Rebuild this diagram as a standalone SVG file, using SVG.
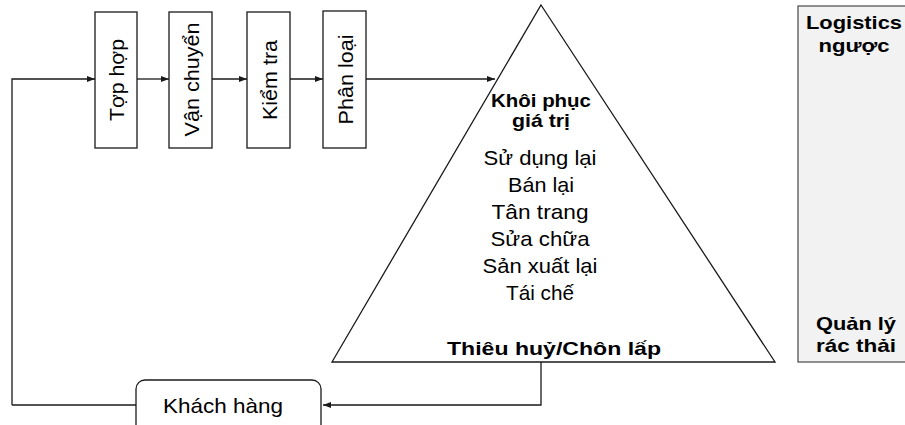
<svg xmlns="http://www.w3.org/2000/svg" width="905" height="425" viewBox="0 0 905 425">
  <style>
    .box { fill: #ffffff; stroke: #1a1a1a; stroke-width: 1.3; }
    .wire { fill: none; stroke: #1a1a1a; stroke-width: 1.3; }
    .txt { font-family: "Liberation Sans", Arial, sans-serif; font-size: 21px; fill: #000; }
    .bold { font-family: "Liberation Sans", Arial, sans-serif; font-size: 19px; font-weight: bold; fill: #000; }
    .mid { text-anchor: middle; }
  </style>
  <defs>
    <marker id="arrow" viewBox="0 0 8 6" refX="8" refY="3" markerWidth="8" markerHeight="6" markerUnits="userSpaceOnUse" orient="auto">
      <path d="M0,0 L8,3 L0,6 Z" fill="#1a1a1a"/>
    </marker>
  </defs>

  <rect width="905" height="425" fill="#ffffff"/>

  <!-- side panel: reverse logistics vs. waste management -->
  <g id="panel">
    <rect x="798" y="6" width="112" height="356" fill="#f2f2f2" stroke="#555555" stroke-width="1.3"/>
    <text class="bold mid" x="854" y="29" textLength="96" lengthAdjust="spacingAndGlyphs">Logistics</text>
    <text class="bold mid" x="854" y="52" textLength="71" lengthAdjust="spacingAndGlyphs">ngược</text>
    <text class="bold mid" x="856" y="330" textLength="80" lengthAdjust="spacingAndGlyphs">Quản lý</text>
    <text class="bold mid" x="856" y="352" textLength="80" lengthAdjust="spacingAndGlyphs">rác thải</text>
  </g>

  <!-- process steps -->
  <g id="tap-hop">
    <rect class="box" x="95" y="12" width="42" height="136"/>
    <text class="txt mid" transform="translate(123.5 80) rotate(-90)" textLength="82" lengthAdjust="spacingAndGlyphs">Tợp hợp</text>
  </g>
  <g id="van-chuyen">
    <rect class="box" x="169" y="12" width="43" height="136"/>
    <text class="txt mid" transform="translate(198.5 79.5) rotate(-90)" textLength="114" lengthAdjust="spacingAndGlyphs">Vận chuyển</text>
  </g>
  <g id="kiem-tra">
    <rect class="box" x="247" y="12" width="43" height="136"/>
    <text class="txt mid" transform="translate(276.5 80) rotate(-90)" textLength="80" lengthAdjust="spacingAndGlyphs">Kiểm tra</text>
  </g>
  <g id="phan-loai">
    <rect class="box" x="323" y="11" width="43" height="137"/>
    <text class="txt mid" transform="translate(352.5 79.5) rotate(-90)" textLength="90" lengthAdjust="spacingAndGlyphs">Phân loại</text>
  </g>

  <!-- value recovery pyramid -->
  <g id="kim-tu-thap">
    <path class="box" d="M541,5 L775,362 L332,362 Z"/>
    <text class="bold mid" x="541" y="107" textLength="100" lengthAdjust="spacingAndGlyphs">Khôi phục</text>
    <text class="bold mid" x="541" y="127" textLength="58" lengthAdjust="spacingAndGlyphs">giá trị</text>
    <text class="txt mid" x="540" y="165" textLength="113" lengthAdjust="spacingAndGlyphs">Sử dụng lại</text>
    <text class="txt mid" x="541" y="192" textLength="66" lengthAdjust="spacingAndGlyphs">Bán lại</text>
    <text class="txt mid" x="540" y="219" textLength="97" lengthAdjust="spacingAndGlyphs">Tân trang</text>
    <text class="txt mid" x="540" y="246" textLength="99" lengthAdjust="spacingAndGlyphs">Sửa chữa</text>
    <text class="txt mid" x="540" y="273" textLength="115" lengthAdjust="spacingAndGlyphs">Sản xuất lại</text>
    <text class="txt mid" x="540" y="300" textLength="68" lengthAdjust="spacingAndGlyphs">Tái chế</text>
    <text class="bold mid" x="554" y="355" textLength="214" lengthAdjust="spacingAndGlyphs">Thiêu huỷ/Chôn lấp</text>
  </g>

  <!-- customer -->
  <g id="khach-hang">
    <rect class="box" x="136" y="380" width="185" height="70" rx="9" ry="9"/>
    <text class="txt mid" x="223" y="413" textLength="120" lengthAdjust="spacingAndGlyphs">Khách hàng</text>
  </g>

  <!-- connectors -->
  <g id="connectors">
    <path class="wire" d="M12,405 L12,79 L95,79" marker-end="url(#arrow)"/>
    <path class="wire" d="M137,79 L169,79" marker-end="url(#arrow)"/>
    <path class="wire" d="M212,79 L247,79" marker-end="url(#arrow)"/>
    <path class="wire" d="M290,79 L323,79" marker-end="url(#arrow)"/>
    <path class="wire" d="M366,79 L495,79" marker-end="url(#arrow)"/>
    <path class="wire" d="M541,362 L541,405 L323,405" marker-end="url(#arrow)"/>
    <path class="wire" d="M136,405 L12,405"/>
  </g>
</svg>
